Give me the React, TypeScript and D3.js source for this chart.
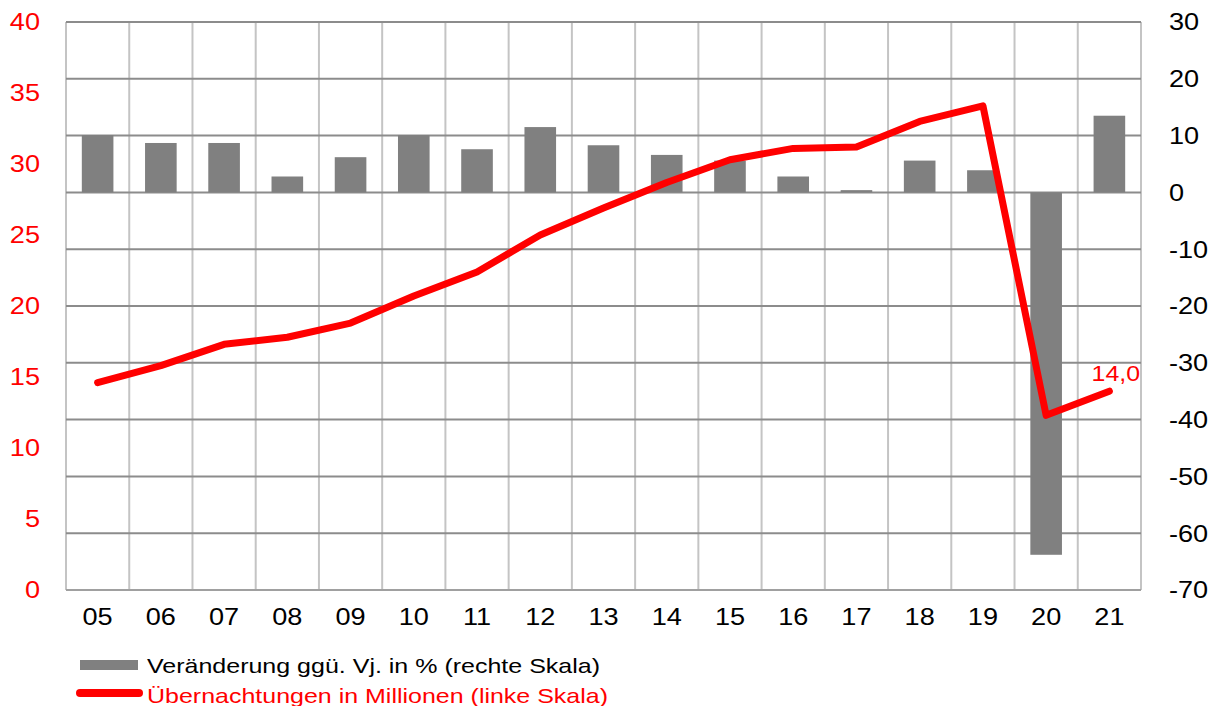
import React from "react";
import * as d3 from "d3";

const years = ["05","06","07","08","09","10","11","12","13","14","15","16","17","18","19","20","21"];
const changePct = [10.1, 8.7, 8.7, 2.8, 6.2, 10.1, 7.6, 11.5, 8.3, 6.6, 5.6, 2.8, 0.4, 5.6, 3.9, -63.8, 13.5];
const nightsMio = [14.6, 15.8, 17.3, 17.8, 18.8, 20.7, 22.4, 25.0, 26.9, 28.7, 30.3, 31.1, 31.2, 33.0, 34.1, 12.3, 14.0];
const leftTicks = [0, 5, 10, 15, 20, 25, 30, 35, 40];
const rightTicks = [-70, -60, -50, -40, -30, -20, -10, 0, 10, 20, 30];
const lastLabel = "14,0";
const legendBar = "Veränderung ggü. Vj. in % (rechte Skala)";
const legendLine = "Übernachtungen in Millionen (linke Skala)";

const W = 1220, H = 706;
const L = 66, R = 1141, T = 22, B = 590;
const font = "'Liberation Sans', Arial, sans-serif";
const SX = 1.13;

function Label(props: { x: number; y: number; anchor: string; fill: string; size: number; dy?: string; children: any }) {
  return (
    <g transform={`translate(${props.x},${props.y}) scale(${SX},1)`}>
      <text x={0} y={0} dy={props.dy || "0"} textAnchor={props.anchor} fill={props.fill} fontSize={props.size}>{props.children}</text>
    </g>
  );
}

export default function App() {
  const x = d3.scaleBand<string>().domain(years).range([L, R]).paddingInner(0).paddingOuter(0);
  const yL = d3.scaleLinear().domain([0, 40]).range([B, T]);
  const yR = d3.scaleLinear().domain([-70, 30]).range([B, T]);
  const bw = x.bandwidth() * 0.5;
  const line = d3.line<number>()
    .x((_, i) => (x(years[i]) as number) + x.bandwidth() / 2)
    .y((d) => yL(d));
  return (
    <svg width={W} height={H} style={{ position: "absolute", left: 0, top: 0, background: "#fff" }} fontFamily={font}>
      {years.map((y) => (
        <line key={"v" + y} x1={x(y)} x2={x(y)} y1={T} y2={B} stroke="#c4c4c4" strokeWidth={2} />
      ))}
      <line x1={R} x2={R} y1={T} y2={B} stroke="#c4c4c4" strokeWidth={2} />
      {rightTicks.map((t) => (
        <line key={"h" + t} x1={L} x2={R} y1={yR(t)} y2={yR(t)} stroke={t === -70 ? "#a0a0a0" : "#8c8c8c"} strokeWidth={2} />
      ))}
      {changePct.map((v, i) => (
        <rect key={"b" + i}
          x={(x(years[i]) as number) + (x.bandwidth() - bw) / 2}
          y={Math.min(yR(v), yR(0))}
          width={bw}
          height={Math.abs(yR(v) - yR(0))}
          fill="#808080" />
      ))}
      <path d={line(nightsMio) || ""} fill="none" stroke="#ff0000" strokeWidth={7} strokeLinejoin="round" strokeLinecap="round" />
      <Label x={1140} y={381} anchor="end" fill="#ff0000" size={22}>{lastLabel}</Label>
      {leftTicks.map((t) => (
        <Label key={"l" + t} x={40} y={yL(t)} dy="0.35em" anchor="end" fill="#ff0000" size={24}>{t}</Label>
      ))}
      {rightTicks.map((t) => (
        <Label key={"r" + t} x={1169} y={yR(t)} dy="0.35em" anchor="start" fill="#000" size={24}>{t}</Label>
      ))}
      {years.map((y) => (
        <Label key={"x" + y} x={(x(y) as number) + x.bandwidth() / 2} y={625} anchor="middle" fill="#000" size={24}>{y}</Label>
      ))}
      <rect x={80} y={660} width={58} height={10} fill="#808080" />
      <text x={147} y={673} fontSize={21} fill="#000" textLength={453} lengthAdjust="spacingAndGlyphs">{legendBar}</text>
      <line x1={80} x2={139} y1={693} y2={693} stroke="#ff0000" strokeWidth={8} strokeLinecap="round" />
      <text x={147} y={703} fontSize={21} fill="#ff0000" textLength={461} lengthAdjust="spacingAndGlyphs">{legendLine}</text>
    </svg>
  );
}
